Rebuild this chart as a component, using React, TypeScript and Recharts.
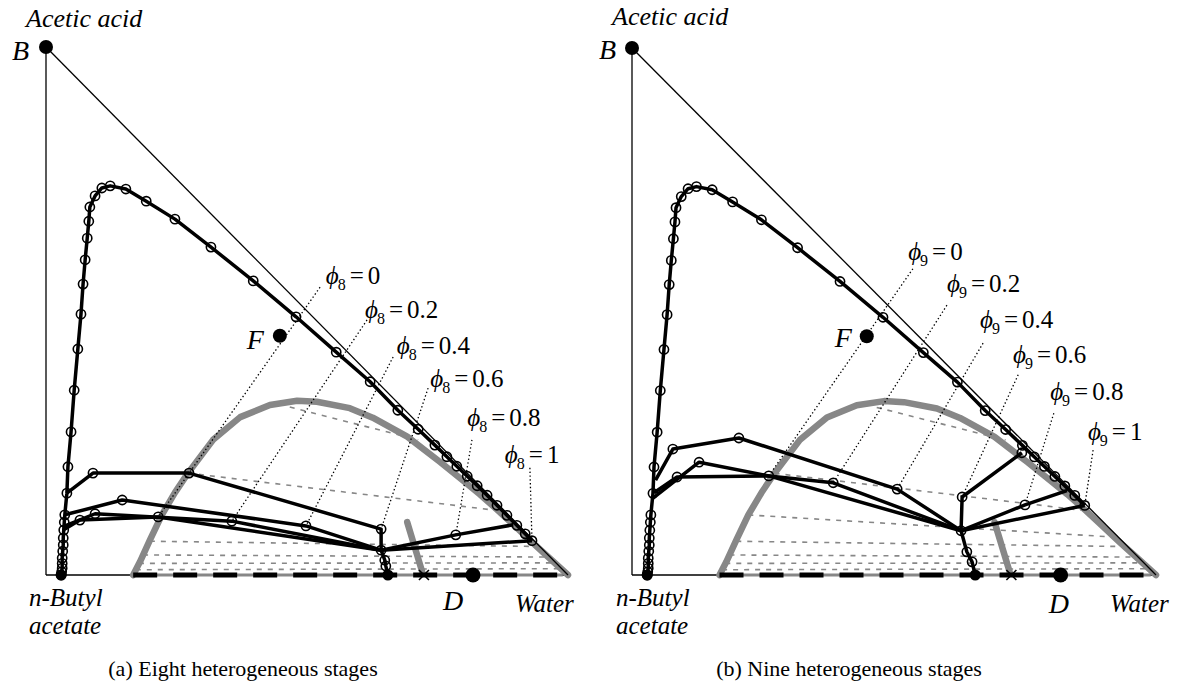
import { ScatterChart, Scatter, XAxis, YAxis } from "recharts";

type P = [number, number];

// x = water, y = acetic acid (mole fractions); origin = n-butyl acetate
const triangleLeg: P[] = [[0, 0], [0, 1]];
const triangleHyp: P[] = [[0, 1], [1, 0]];
const triangleBase: P[] = [[0, 0], [1, 0]];

// liquid-liquid envelope (grey)
const binodal: P[] = [
  [0.167, 0], [0.18, 0.025], [0.199, 0.066], [0.222, 0.114], [0.247, 0.156], [0.272, 0.193],
  [0.32, 0.256], [0.372, 0.299], [0.429, 0.322], [0.481, 0.33], [0.519, 0.328], [0.582, 0.316],
  [0.626, 0.298], [0.692, 0.262], [0.755, 0.214], [0.8, 0.178], [0.831, 0.153], [0.864, 0.124],
  [0.9, 0.091], [0.93, 0.063], [0.96, 0.036], [1, 0],
];

const tieLines: P[][] = [
  [[0.467, 0.318], [0.713, 0.256]],
  [[0.272, 0.193], [0.866, 0.122]],
  [[0.199, 0.064], [0.94, 0.054]],
  [[0.186, 0.038], [0.962, 0.034]],
  [[0.178, 0.022], [0.975, 0.023]],
  [[0.172, 0.01], [0.986, 0.012]],
];
const extraTie9: P[][] = [[[0.222, 0.114], [0.92, 0.072]]];

const boundary: P[] = [[0.692, 0.1], [0.721, 0.005]];
const splitLine: P[] = [[0.167, 0], [0.99, 0]];

// stage profile along the envelope (black with rings)
const mainProfile: P[] = [
  [0.029, 0], [0.03, 0.006], [0.031, 0.013], [0.031, 0.022], [0.031, 0.032], [0.032, 0.045],
  [0.033, 0.057], [0.033, 0.07], [0.034, 0.085], [0.035, 0.1], [0.036, 0.114],
  [0.04, 0.155], [0.042, 0.205], [0.048, 0.271], [0.054, 0.35], [0.061, 0.428], [0.067, 0.494],
  [0.071, 0.551], [0.075, 0.597], [0.079, 0.638], [0.082, 0.67], [0.084, 0.697], [0.094, 0.718],
  [0.107, 0.733], [0.123, 0.737], [0.153, 0.731], [0.192, 0.708], [0.247, 0.674], [0.316, 0.621],
  [0.397, 0.557], [0.479, 0.489], [0.556, 0.422], [0.621, 0.366], [0.674, 0.312], [0.713, 0.276],
  [0.745, 0.246], [0.768, 0.224], [0.787, 0.206], [0.807, 0.187], [0.826, 0.169], [0.845, 0.151],
  [0.864, 0.132], [0.883, 0.113], [0.902, 0.094], [0.918, 0.078], [0.931, 0.065],
];

const pointB: P = [0, 1];
const pointF: P = [0.448, 0.453];
const pointD: P = [0.818, 0];
const azeotrope: P = [0.724, 0];
const solventEnd: P = [0.029, 0];
const bottomEnd: P = [0.655, 0];

// (a) eight heterogeneous stages
const stages8: P[][] = [
  [[0.04, 0.155], [0.09, 0.193], [0.274, 0.193], [0.642, 0.087], [0.642, 0.047]],
  [[0.036, 0.114], [0.146, 0.142], [0.498, 0.093], [0.642, 0.047]],
  [[0.033, 0.085], [0.065, 0.104], [0.215, 0.11], [0.642, 0.047]],
  [[0.034, 0.092], [0.094, 0.116], [0.356, 0.102], [0.642, 0.047]],
  [[0.642, 0.047], [0.785, 0.076], [0.895, 0.095]],
  [[0.642, 0.047], [0.931, 0.065]],
  [[0.642, 0.047], [0.649, 0.028], [0.651, 0.017], [0.655, 0]],
];
const marks8: P[] = [
  [0.09, 0.193], [0.274, 0.193], [0.642, 0.087], [0.146, 0.142], [0.498, 0.093], [0.065, 0.104],
  [0.215, 0.11], [0.094, 0.116], [0.356, 0.102], [0.642, 0.047], [0.785, 0.076], [0.649, 0.028],
  [0.651, 0.017],
];
const phiValues = ["0", "0.2", "0.4", "0.6", "0.8", "1"];
const phiTop8: P[] = [[0.525, 0.545], [0.615, 0.483], [0.665, 0.413], [0.732, 0.354], [0.816, 0.256], [0.927, 0.203]];
const phiEnd8: P[] = [[0.215, 0.11], [0.356, 0.102], [0.498, 0.093], [0.642, 0.087], [0.785, 0.076], [0.931, 0.065]];
const phiAt8: P[] = [[0.536, 0.551], [0.611, 0.487], [0.672, 0.419], [0.736, 0.356], [0.807, 0.282], [0.879, 0.212]];

// (b) nine heterogeneous stages
const stages9: P[][] = [
  [[0.045, 0.18], [0.078, 0.239], [0.204, 0.26], [0.506, 0.163], [0.628, 0.084]],
  [[0.042, 0.156], [0.086, 0.186], [0.261, 0.188], [0.628, 0.084]],
  [[0.04, 0.146], [0.128, 0.214], [0.261, 0.188], [0.384, 0.175], [0.628, 0.084]],
  [[0.628, 0.084], [0.63, 0.148], [0.744, 0.232]],
  [[0.628, 0.084], [0.75, 0.133], [0.83, 0.16]],
  [[0.628, 0.084], [0.864, 0.132]],
  [[0.628, 0.084], [0.639, 0.044], [0.649, 0.025], [0.655, 0]],
];
const marks9: P[] = [
  [0.078, 0.239], [0.204, 0.26], [0.506, 0.163], [0.086, 0.186], [0.261, 0.188], [0.128, 0.214],
  [0.384, 0.175], [0.628, 0.084], [0.63, 0.148], [0.744, 0.232], [0.75, 0.133], [0.639, 0.044],
  [0.649, 0.025],
];
const phiTop9: P[] = [[0.536, 0.581], [0.601, 0.512], [0.67, 0.44], [0.737, 0.38], [0.805, 0.307], [0.88, 0.237]];
const phiEnd9: P[] = [[0.261, 0.188], [0.384, 0.175], [0.506, 0.163], [0.63, 0.148], [0.75, 0.133], [0.864, 0.132]];
const phiAt9: P[] = [[0.527, 0.598], [0.601, 0.537], [0.664, 0.469], [0.727, 0.402], [0.798, 0.332], [0.87, 0.256]];

const FONT = "'Liberation Serif', 'Times New Roman', serif";
const GREY = "#878787";

const rows = (pts: P[]) => pts.map(([x, y]) => ({ x, y }));

const Nothing = () => <g />;
const Ring = (p: any) => (
  <circle cx={p.cx} cy={p.cy} r={4.6} fill="none" stroke="#000" strokeWidth={1.6} />
);
const solid = (r: number) => (p: any) => <circle cx={p.cx} cy={p.cy} r={r} fill="#000" />;
const Cross = (p: any) => (
  <g stroke="#000" strokeWidth={1.6}>
    <line x1={p.cx - 5} y1={p.cy - 5} x2={p.cx + 5} y2={p.cy + 5} />
    <line x1={p.cx - 5} y1={p.cy + 5} x2={p.cx + 5} y2={p.cy - 5} />
  </g>
);
const Word = (p: any) => {
  const d = p.payload;
  return (
    <text x={p.cx + d.dx} y={p.cy + d.dy} fontFamily={FONT} fontStyle="italic" fontSize={d.size} fill="#000">
      {d.t}
    </text>
  );
};
const phiShape = (sub: string) => (p: any) => (
  <text x={p.cx} y={p.cy} fontFamily={FONT} fontSize={25} fill="#000">
    <tspan fontStyle="italic">ϕ</tspan>
    <tspan fontSize={16} dx={-1} dy={6}>{sub}</tspan>
    <tspan dx={4} dy={-6}>=</tspan>
    <tspan dx={4}>{p.payload.v}</tspan>
  </text>
);

const seg = (key: string, pts: P[], style: object) => (
  <Scatter key={key} data={rows(pts)} line={style} shape={Nothing} isAnimationActive={false} />
);

type Lbl = { at: P; t: string; dx: number; dy: number; size: number };

function Panel(props: {
  left: number;
  width: number;
  margin: { top: number; left: number; right: number; bottom: number };
  stages: P[][];
  marks: P[];
  curveEnd: number;
  sub: string;
  phiTop: P[];
  phiEnd: P[];
  phiAt: P[];
  ties: P[][];
  labels: Lbl[];
}) {
  const { stages, marks, curveEnd, sub, phiTop, phiEnd, phiAt, ties, labels } = props;
  const curve = mainProfile.filter(([x]) => x <= curveEnd + 1e-9);
  const words = labels.map((l) => ({ x: l.at[0], y: l.at[1], t: l.t, dx: l.dx, dy: l.dy, size: l.size }));
  const phiRows = phiAt.map(([x, y], i) => ({ x, y, v: phiValues[i] }));
  return (
    <div style={{ position: "absolute", left: props.left, top: 0 }}>
      <ScatterChart width={props.width} height={697} margin={props.margin}>
        <XAxis type="number" dataKey="x" domain={[0, 1]} hide />
        <YAxis type="number" dataKey="y" domain={[0, 1]} hide />
        {ties.map((t, i) => seg(`tie${i}`, t, { stroke: GREY, strokeWidth: 1.6, strokeDasharray: "5 6" }))}
        {seg("base", triangleBase, { stroke: "#000", strokeWidth: 1.3 })}
        {seg("split", splitLine, { stroke: GREY, strokeWidth: 3 })}
        {seg("binodal", binodal, { stroke: GREY, strokeWidth: 6.5, strokeLinecap: "round", strokeLinejoin: "round" })}
        {seg("boundary", boundary, { stroke: GREY, strokeWidth: 6.5, strokeLinecap: "round" })}
        {seg("leg", triangleLeg, { stroke: "#000", strokeWidth: 1.3 })}
        {seg("hyp", triangleHyp, { stroke: "#000", strokeWidth: 1.3 })}
        {seg("splitDash", splitLine, { stroke: "#000", strokeWidth: 5, strokeDasharray: "24 16" })}
        {phiTop.map((t, i) =>
          seg(`phi${i}`, [t, phiEnd[i]], { stroke: "#000", strokeWidth: 1.3, strokeDasharray: "1.4 2.4" })
        )}
        {seg("curve", curve, { stroke: "#000", strokeWidth: 3.5, strokeLinejoin: "round" })}
        <Scatter data={rows(curve)} shape={Ring} isAnimationActive={false} />
        {stages.map((s, i) => seg(`stage${i}`, s, { stroke: "#000", strokeWidth: 3.5, strokeLinejoin: "round" }))}
        <Scatter data={rows(marks)} shape={Ring} isAnimationActive={false} />
        <Scatter data={rows([pointB])} shape={solid(7)} isAnimationActive={false} />
        <Scatter data={rows([pointF])} shape={solid(7)} isAnimationActive={false} />
        <Scatter data={rows([pointD])} shape={solid(7.5)} isAnimationActive={false} />
        <Scatter data={rows([solventEnd, bottomEnd])} shape={solid(5.5)} isAnimationActive={false} />
        <Scatter data={rows([azeotrope])} shape={Cross} isAnimationActive={false} />
        <Scatter data={words} shape={Word} isAnimationActive={false} />
        <Scatter data={phiRows} shape={phiShape(sub)} isAnimationActive={false} />
      </ScatterChart>
    </div>
  );
}

const labels8: Lbl[] = [
  { at: pointB, t: "Acetic acid", dx: -20, dy: -20, size: 26 },
  { at: pointB, t: "B", dx: -34, dy: 13, size: 28 },
  { at: [0, 0], t: "n-Butyl", dx: -17, dy: 31, size: 25 },
  { at: [0, 0], t: "acetate", dx: -17, dy: 59, size: 25 },
  { at: [1, 0], t: "Water", dx: -53, dy: 37, size: 25 },
  { at: pointF, t: "F", dx: -33, dy: 13, size: 28 },
  { at: pointD, t: "D", dx: -30, dy: 35, size: 28 },
];
const labels9: Lbl[] = [
  { at: pointB, t: "Acetic acid", dx: -20, dy: -23, size: 26 },
  { at: pointB, t: "B", dx: -33, dy: 11, size: 28 },
  { at: [0, 0], t: "n-Butyl", dx: -16, dy: 31, size: 25 },
  { at: [0, 0], t: "acetate", dx: -16, dy: 59, size: 25 },
  { at: [1, 0], t: "Water", dx: -46, dy: 37, size: 25 },
  { at: pointF, t: "F", dx: -32, dy: 11, size: 28 },
  { at: pointD, t: "D", dx: -12, dy: 38, size: 28 },
];

const captionStyle = {
  position: "absolute" as const,
  top: 658,
  width: 400,
  textAlign: "center" as const,
  fontFamily: FONT,
  fontSize: 22,
  lineHeight: "22px",
  color: "#000",
};

export default function App() {
  return (
    <div style={{ position: "absolute", left: 0, top: 0, width: 1185, height: 697, background: "#fff" }}>
      <Panel
        left={0}
        width={590}
        margin={{ top: 47, left: 46, right: 22, bottom: 122 }}
        stages={stages8}
        marks={marks8}
        curveEnd={0.931}
        sub="8"
        phiTop={phiTop8}
        phiEnd={phiEnd8}
        phiAt={phiAt8}
        ties={tieLines}
        labels={labels8}
      />
      <Panel
        left={590}
        width={595}
        margin={{ top: 48, left: 42, right: 29, bottom: 122 }}
        stages={stages9}
        marks={marks9}
        curveEnd={0.864}
        sub="9"
        phiTop={phiTop9}
        phiEnd={phiEnd9}
        phiAt={phiAt9}
        ties={[...tieLines, ...extraTie9]}
        labels={labels9}
      />
      <div style={{ ...captionStyle, left: 43 }}>(a) Eight heterogeneous stages</div>
      <div style={{ ...captionStyle, left: 649 }}>(b) Nine heterogeneous stages</div>
    </div>
  );
}
